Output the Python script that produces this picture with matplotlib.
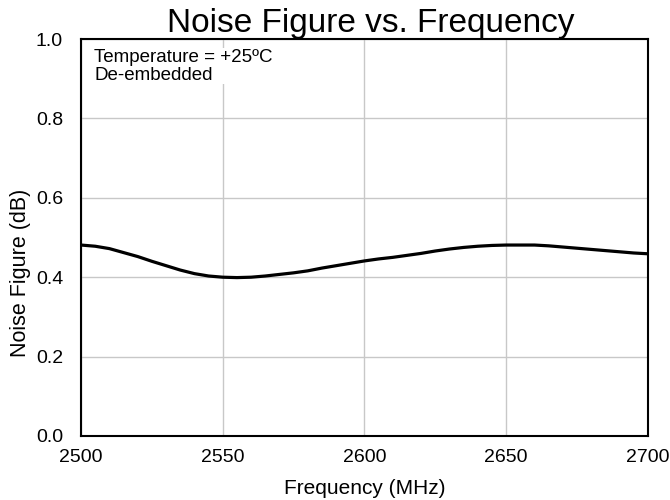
import matplotlib
matplotlib.use("Agg")
import matplotlib.pyplot as plt

plt.rcParams['font.family'] = ['Liberation Sans', 'DejaVu Sans']

freq = [2500, 2505, 2510, 2515, 2520, 2525, 2530, 2535, 2540, 2545, 2550,
        2555, 2560, 2565, 2570, 2575, 2580, 2585, 2590, 2595, 2600,
        2605, 2610, 2615, 2620, 2625, 2630, 2635, 2640, 2645, 2650,
        2655, 2660, 2665, 2670, 2675, 2680, 2685, 2690, 2695, 2700]
nf = [0.481, 0.478, 0.472, 0.462, 0.452, 0.440, 0.429, 0.418, 0.409, 0.403, 0.400,
      0.399, 0.400, 0.403, 0.407, 0.411, 0.416, 0.423, 0.429, 0.435, 0.441,
      0.446, 0.450, 0.455, 0.460, 0.466, 0.471, 0.475, 0.478, 0.480, 0.481,
      0.481, 0.481, 0.479, 0.476, 0.473, 0.470, 0.467, 0.464, 0.461, 0.459]
xticks = [2500, 2550, 2600, 2650, 2700]
yticks = [0.0, 0.2, 0.4, 0.6, 0.8, 1.0]

fig = plt.figure(figsize=(6.7, 5.0), dpi=100)
ax = fig.add_axes([0.121, 0.128, 0.846, 0.794])
ax.plot(freq, nf, color='black', linewidth=2.3, zorder=3, solid_capstyle='butt')
ax.set_xlim(2500, 2700)
ax.set_ylim(0, 1.0)
ax.set_xticks(xticks)
ax.set_yticks(yticks)
ax.set_yticklabels([f"{v:.1f}" for v in yticks])
ax.grid(True, color='#c8c8c8', linewidth=1.0, zorder=0)
ax.set_axisbelow(True)
ax.tick_params(axis='both', length=0, labelsize=14)
ax.tick_params(axis='y', pad=13)
ax.tick_params(axis='x', pad=9)
for s in ax.spines.values():
    s.set_linewidth(1.5)
    s.set_color('black')
ax.set_xlabel('Frequency (MHz)', fontsize=15, labelpad=10)
ax.set_ylabel('Noise Figure (dB)', fontsize=15.5)
ax.yaxis.set_label_coords(-0.089, 0.41)
ax.set_title('Noise Figure vs. Frequency', fontsize=24, pad=2, x=0.511)
ax.text(0.023, 0.975, 'Temperature = +25ºC\nDe-embedded', transform=ax.transAxes,
        fontsize=13.5, va='top', ha='left', linespacing=1.05,
        bbox=dict(facecolor='white', edgecolor='none', pad=0.5), zorder=4)
fig.savefig('out.png', dpi=100)
